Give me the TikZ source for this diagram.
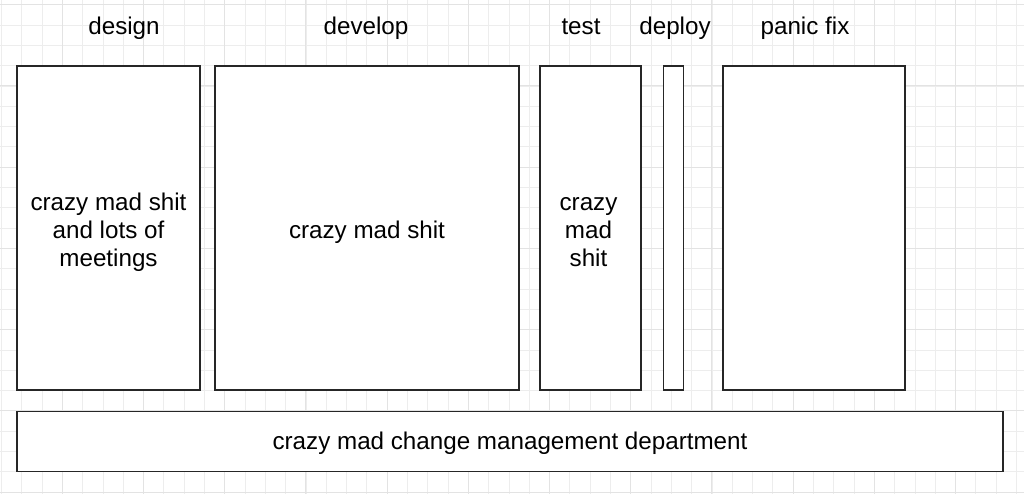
\documentclass[tikz,border=0pt]{standalone}
\usepackage{fontspec}
\setmainfont{Liberation Sans}
\begin{document}
\begin{tikzpicture}[x=1pt,y=-1pt,
  minorline/.style={draw=black!7,line width=0.8pt},
  majorline/.style={draw=black!11,line width=1pt},
  phase/.style={draw=black!85,line width=1.6pt,fill=white,rectangle,inner sep=0pt},
  boxtext/.style={align=center,inner sep=0pt,font=\fontsize{24.2}{28}\selectfont},
  title/.style={font=\fontsize{24.2}{28}\selectfont,inner sep=0pt,anchor=base}]
\fill[white] (0,0) rectangle (1024,494);
\useasboundingbox (0,0) rectangle (1024,494);
\foreach \i in {0,...,50} {
  \pgfmathsetmacro\xx{1.4+20.3*\i}
  \draw[minorline] (\xx,0) -- (\xx,494);
}
\foreach \j in {0,...,24} {
  \pgfmathsetmacro\yy{4.8+20.3*\j}
  \draw[minorline] (0,\yy) -- (1024,\yy);
}
\foreach \i in {0,...,12} {
  \pgfmathsetmacro\xx{62.3+81.2*\i}
  \draw[majorline] (\xx,0) -- (\xx,494);
}
\foreach \j in {0,...,6} {
  \pgfmathsetmacro\yy{4.8+81.2*\j}
  \draw[majorline] (0,\yy) -- (1024,\yy);
}
\node[phase,minimum width=183pt,minimum height=324pt] (design) at (108.5,228) {};
\node[phase,minimum width=304pt,minimum height=324pt] (develop) at (367,228) {};
\node[phase,minimum width=101pt,minimum height=324pt] (test) at (590.5,228) {};
\node[phase,minimum width=20pt,minimum height=324pt] (deploy) at (673.5,228) {};
\node[phase,minimum width=182pt,minimum height=324pt] (panic) at (814,228) {};
\node[phase,minimum width=986pt,minimum height=60pt] (cm) at (510,441.5) {};
\node[boxtext] (designtext) at ([yshift=-4pt]design.center) {crazy mad shit\\and lots of\\meetings};
\node[boxtext] (developtext) at ([yshift=-4pt]develop.center) {crazy mad shit};
\node[boxtext] (testtext) at ([xshift=-2pt,yshift=-4pt]test.center) {crazy\\mad\\shit};
\node[boxtext] (cmtext) at ([yshift=-2pt]cm.center) {crazy mad change management department};
\node[title] (tdesign) at (124,35) {design};
\node[title] (tdevelop) at (366,35) {develop};
\node[title] (ttest) at (581,35) {test};
\node[title] (tdeploy) at (675,35) {deploy};
\node[title] (tpanic) at (805,35) {panic fix};
\end{tikzpicture}
\end{document}
